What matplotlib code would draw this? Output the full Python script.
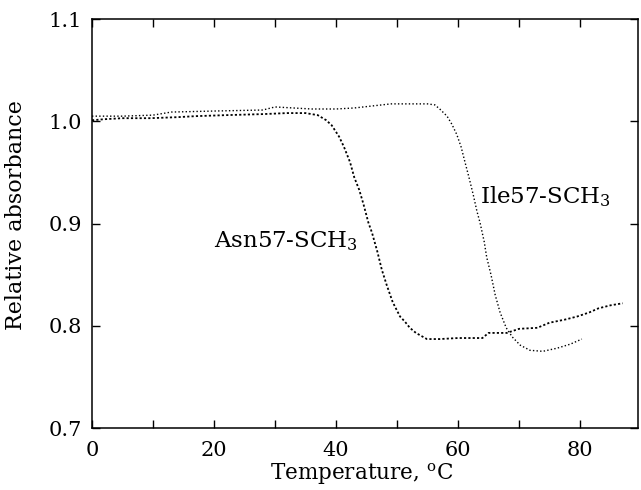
import matplotlib
matplotlib.use('Agg')
import matplotlib.pyplot as plt
import numpy as np

# thermal melting curves
asn_temp = [0, 2, 5, 9.5, 14, 17, 22, 28, 32, 35, 37.0, 38.4, 39.3, 40.5, 41.3, 42.3,
            43.0, 43.8, 44.5, 45.3, 45.9, 46.8, 47.5, 48.3, 49.3, 50.5, 51.3, 52.1,
            53.1, 54.9, 57, 60, 64, 65, 68, 70, 73, 75, 77.5, 79.5, 81.5, 83, 85, 87]
asn_abs = [1.001, 1.002, 1.003, 1.003, 1.004, 1.005, 1.006, 1.007, 1.008, 1.008, 1.006,
           1.001, 0.996, 0.985, 0.975, 0.960, 0.945, 0.933, 0.919, 0.901, 0.891, 0.872,
           0.855, 0.840, 0.823, 0.809, 0.804, 0.798, 0.793, 0.787, 0.787, 0.788, 0.788,
           0.793, 0.793, 0.797, 0.798, 0.803, 0.806, 0.809, 0.813, 0.817, 0.820, 0.822]

ile_temp = [0, 5, 10, 13, 20, 28, 30, 33, 36, 40, 43, 46, 49, 52, 55, 56.2, 57.0, 58.2,
            59.0, 59.8, 60.5, 61.1, 61.8, 62.5, 63.1, 63.6, 64.3, 64.7, 65.4, 66.1, 66.9,
            67.9, 68.9, 70.2, 71.8, 73.9, 76.2, 78.4, 80.3]
ile_abs = [1.005, 1.005, 1.006, 1.009, 1.010, 1.011, 1.014, 1.013, 1.012, 1.012, 1.013,
           1.015, 1.017, 1.017, 1.017, 1.016, 1.012, 1.005, 0.997, 0.987, 0.975, 0.961,
           0.945, 0.928, 0.912, 0.901, 0.882, 0.867, 0.850, 0.830, 0.813, 0.798, 0.789,
           0.781, 0.776, 0.775, 0.778, 0.782, 0.787]

xticks = [0, 20, 40, 60, 80]
yticks = [0.7, 0.8, 0.9, 1.0, 1.1]

plt.rcParams['font.family'] = 'DejaVu Serif'
plt.rcParams['mathtext.fontset'] = 'dejavuserif'

fig = plt.figure(figsize=(6.41, 4.90), dpi=100)
ax = fig.add_axes([0.1435, 0.1265, 0.8518, 0.8347])

ax.plot(asn_temp, asn_abs, color='black', lw=1.3, ls=(0, (1.2, 1.2)))
ax.plot(ile_temp, ile_abs, color='black', lw=1.0, ls=(0, (1.0, 1.6)))

ax.set_xlim(0, 89.5)
ax.set_ylim(0.7, 1.1)
ax.set_xticks(np.arange(0, 90, 10))
ax.set_xticklabels([str(t) if t in xticks else '' for t in range(0, 90, 10)])
ax.set_yticks(yticks)
ax.set_yticklabels(['%.1f' % v for v in yticks])
ax.tick_params(direction='in', length=6, width=1, top=True, right=True,
               labelsize=15)
ax.tick_params(axis='x', pad=9)
ax.tick_params(axis='y', pad=7)
for s in ax.spines.values():
    s.set_linewidth(1.1)

ax.set_xlabel('Temperature, $^{\\rm o}$C', fontsize=15.5)
ax.xaxis.set_label_coords(0.493, -0.082)
ax.set_ylabel('Relative absorbance', fontsize=16)
ax.yaxis.set_label_coords(-0.119, 0.52)

ax.text(20.0, 0.883, 'Asn57-SCH$_3$', fontsize=16.5, va='center', ha='left')
ax.text(63.6, 0.926, 'Ile57-SCH$_3$', fontsize=16.5, va='center', ha='left')

plt.savefig('out.png', dpi=100)
